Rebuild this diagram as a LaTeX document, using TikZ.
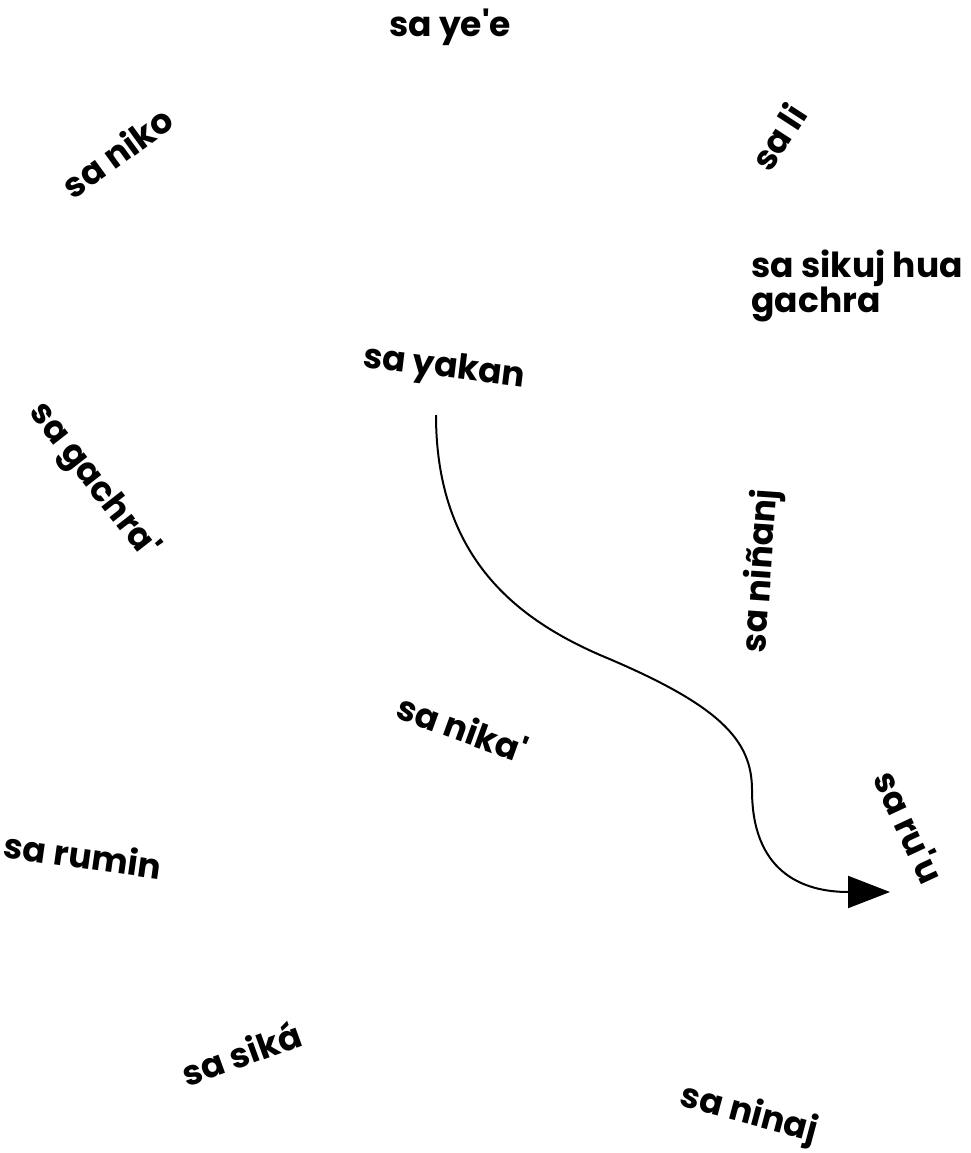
\documentclass[tikz,border=0pt]{standalone}
\usepackage{fontspec}
\setmainfont{Poppins}
\usepackage{tikz}
\usetikzlibrary{arrows.meta}

\begin{document}
\begin{tikzpicture}[
  x=1pt, y=1pt,
  word/.style={inner sep=0pt, font=\fontsize{34.5}{34}\selectfont\bfseries},
  pathline/.style={-{Triangle[length=42pt, width=32pt]}, line width=2pt},
]
  \useasboundingbox (0,0) rectangle (971,-1153);

  % Top words
  \node[word] (yee) at (450,-27) {sa ye\textquotesingle e};
  \node[word, rotate=36] (niko) at (117,-152) {sa niko};
  \node[word, rotate=57] (li) at (778,-137) {sa li};
  \node[word, align=left] (sikuj) at (857,-286) {sa sikuj hua\\gachra};

  % Middle words
  \node[word, rotate=-7] (yakan) at (444,-369) {sa yakan};
  \node[word, rotate=-52] (gachra) at (93,-481) {sa gachra\textquotesingle};
  \node[word, rotate=86] (ninanj) at (762,-571) {sa niñanj};
  \node[word, rotate=-20] (nika) at (463,-728) {sa nika\textquotesingle};
  \node[word, rotate=-65] (ruu) at (910,-827) {sa ru\textquotesingle u};

  % Bottom words
  \node[word, rotate=-8] (rumin) at (83,-855) {sa rumin};
  \node[word, rotate=20] (sika) at (241,-1053) {sa siká};
  \node[word, rotate=-15] (ninaj) at (749,-1115) {sa ninaj};

  % Curved arrow
  \coordinate (from) at (436,-415);
  \coordinate (to) at (890,-892);
  \draw[pathline] (from) .. controls (436,-560) and (520,-620) .. (600,-655)
    .. controls (720,-705) and (752,-740) .. (752,-790)
    .. controls (752,-870) and (800,-892) .. (to);
\end{tikzpicture}
\end{document}
